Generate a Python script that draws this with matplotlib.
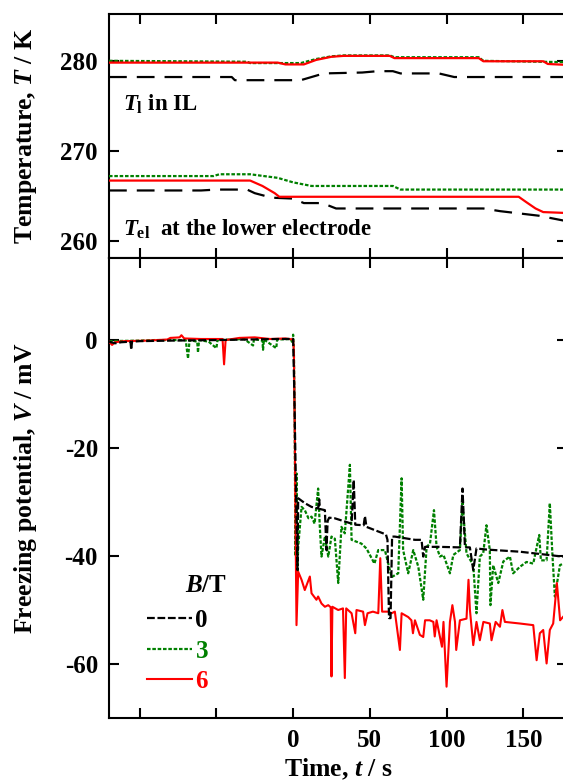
import numpy as np
import matplotlib
matplotlib.use("Agg")
import matplotlib.pyplot as plt

plt.rcParams['font.family'] = ['Liberation Serif', 'DejaVu Serif']
plt.rcParams['font.weight'] = 'bold'
plt.rcParams['axes.labelweight'] = 'bold'
plt.rcParams['axes.unicode_minus'] = False
plt.rcParams['mathtext.fontset'] = 'custom'
plt.rcParams['mathtext.rm'] = 'Liberation Serif:bold'
plt.rcParams['mathtext.bf'] = 'Liberation Serif:bold'
plt.rcParams['mathtext.it'] = 'Liberation Serif:italic:bold'

# ---- temperature (upper panel), (t / s, T / K) ----
tl_0 = [(-120, 278.2), (-40, 278.2), (-38, 277.85), (5, 277.85), (12, 278.2), (20, 278.6),
        (45, 278.7), (55, 278.85), (65, 278.85), (70, 278.6), (95, 278.6), (105, 278.2), (178, 278.2)]
tl_3 = [(-120, 280.0), (-30, 279.9), (-28, 279.75), (5, 279.75), (15, 280.2), (25, 280.5),
        (33, 280.6), (63, 280.6), (66, 280.4), (121, 280.4), (124, 280.0), (178, 279.85)]
tl_6 = [(-120, 279.8), (-10, 279.8), (-5, 279.6), (7, 279.6), (15, 280.1), (25, 280.45), (33, 280.55),
        (63, 280.55), (66, 280.3), (121, 280.3), (124, 279.95), (163, 279.95), (166, 279.65), (178, 279.55)]

tel_0 = [(-120, 265.6), (-60, 265.6), (-50, 265.7), (-30, 265.7), (-25, 265.3), (-14, 264.8),
         (0, 264.7), (7, 264.2), (19, 264.2), (28, 263.6), (124, 263.6), (135, 263.3),
         (145, 263.1), (160, 262.8), (178, 262.2)]
tel_3 = [(-120, 267.2), (-52, 267.2), (-48, 267.4), (-28, 267.4), (-10, 267.0), (0, 266.5),
         (12, 266.1), (65, 266.1), (70, 265.7), (178, 265.7)]
tel_6 = [(-120, 266.7), (-28, 266.7), (-20, 266.1), (-12, 265.3), (-9, 264.9), (147, 264.9),
         (152, 264.3), (158, 263.6), (163, 263.2), (178, 263.1)]

# ---- freezing potential (lower panel), (t / s, V / mV) ----
v_0 = [(-120, -0.3), (-116, -0.6), (-112, -0.4), (-106, -0.3), (-105.5, -1.8), (-105, -0.3),
       (-100, -0.2), (-80, -0.1), (-50, 0.0), (-30, 0.1), (-10, 0.2), (0, 0.2),
       (0.8, -10), (2.0, -30), (2.8, -42.6), (3.3, -29.3), (7.6, -30.2), (12, -30.9),
       (16.3, -31.2), (17.0, -29.5), (17.5, -31.3), (20.7, -31.5), (21.7, -38.9), (22.5, -33.5),
       (23.5, -32.9), (27, -33.0), (38.1, -34.0), (39.5, -25.9), (40.5, -34.2), (46.0, -34.3),
       (46.8, -32.6), (47.8, -34.6), (55, -35.4), (60.5, -36.0), (61.5, -37.0), (62.5, -51.5),
       (63.5, -51.5), (64.5, -36.4), (66.3, -36.4), (75, -36.8), (79.4, -37.0), (83.7, -37.0),
       (84.8, -40.1), (86, -38.3), (95, -38.3), (108.7, -38.4), (110.4, -27.5), (112, -38.4),
       (115.2, -38.4), (117.4, -42.6), (119.5, -38.6), (126, -38.8), (147.8, -39.2),
       (169.5, -39.9), (178, -40.2)]

v_3 = [(-120, -0.2), (-100, -0.1), (-90, 0.0), (-70, 0.0), (-68.5, -3.4), (-67.5, 0.0),
       (-62.5, -0.3), (-62, -2.3), (-61.3, 0.0), (-55, -0.3), (-50, -1.5), (-49.3, 0.0),
       (-40, 0.1), (-32, 0.2), (-26.1, -1.0), (-25.5, 0.2), (-20, -0.1), (-19.6, -1.8),
       (-19, 0.1), (-11, -1.5), (-10.4, 0.1), (-1.5, 0.2), (-0.5, -0.5), (0, 1.0), (0.5, -2.0),
       (1.0, -14), (1.5, -40), (2.2, -24.7), (2.8, -43), (3.3, -38.3), (5.5, -30.9),
       (7.6, -31.5), (10, -33.0), (12, -32.7), (14, -34.0), (16.3, -27.5), (17.4, -34.6),
       (18.5, -40.1), (20.7, -36.4), (22.9, -40.1), (25, -36.4), (27.2, -36.8), (29.4, -45.0),
       (31.5, -34.6), (33.7, -35.8), (37, -23.1), (38.1, -37.0), (44.5, -37.7), (47.8, -38.6),
       (53, -41.4), (55.5, -38.9), (59.8, -38.9), (64.2, -43.9), (68.5, -43.2), (70.7, -25.6),
       (71.7, -38.9), (75, -43.2), (78.3, -38.9), (81.6, -42.0), (84.8, -48.1), (87, -38.3),
       (89.2, -37.7), (91.8, -31.5), (93.5, -38.3), (95.7, -40.1), (98, -39.8), (102.2, -43.2),
       (104.4, -39.8), (108.7, -38.9), (110.4, -30.2), (113, -39.5), (117.4, -41.7),
       (119.5, -50.6), (121.7, -40.1), (123.9, -39.5), (126, -34.3), (128.2, -38.9),
       (128.6, -49.1), (130.4, -41.7), (133.7, -45.0), (137, -41.0), (141.3, -40.1),
       (143.4, -43.2), (147.8, -42.0), (152.1, -41.1), (156.5, -41.4), (160.4, -36.1),
       (161.5, -40.8), (165.2, -40.8), (167.3, -30.2), (169, -39.8), (170.6, -47.5),
       (173.9, -41.7), (178, -41.1)]

v_6 = [(-120, -0.3), (-118, -0.9), (-116, -0.4), (-110, -0.2), (-95, -0.1), (-82, 0.1),
       (-80, 0.4), (-74, 0.5), (-72.8, 0.9), (-71, 0.3), (-60, 0.2), (-46, 0.2), (-45, -4.5),
       (-44, 0.0), (-35, 0.4), (-25, 0.5), (-15, 0.2), (-5, 0.3), (0, 0.1), (0.5, -2.0),
       (1.0, -15), (1.6, -35), (2.2, -52.8), (3.3, -42.9), (5.5, -44.4), (7.6, -46.3),
       (10.9, -43.8), (12, -46.9), (15.2, -48.1), (16.3, -47.5), (18.5, -48.8), (20.7, -49.4),
       (22.9, -49.1), (24.5, -49.5), (25, -62.3), (25.6, -49.4), (29.4, -50.0), (32.5, -49.7),
       (33.7, -62.6), (34.6, -49.7), (38.1, -50.6), (40.5, -54.3), (41.3, -50.0), (45.6, -50.3),
       (46.8, -52.8), (48.5, -50.6), (52, -50.3), (55.5, -50.6), (56.8, -40.4), (58, -50.3),
       (62, -50.3), (64.2, -50.6), (66.3, -50.3), (69.6, -57.4), (70.7, -50.6), (75, -51.3),
       (77.1, -51.9), (78.1, -54.3), (79.4, -51.9), (82.6, -54.6), (84.8, -55.0), (86, -51.9),
       (89, -51.9), (91.4, -52.2), (92.3, -54.9), (93.5, -51.9), (97, -56.8), (98, -52.2),
       (100, -64.2), (102.2, -52.2), (103.8, -49.1), (105.5, -52.2), (106.3, -57.4),
       (108.7, -51.9), (113, -51.6), (114.3, -44.4), (115.2, -49.9), (117.4, -56.5),
       (119.5, -52.2), (121.7, -55.6), (124, -52.2), (128.2, -52.5), (129.3, -55.6),
       (132, -52.2), (134.8, -53.1), (136.4, -50.0), (138, -52.2), (147.8, -52.5),
       (156.5, -52.8), (158.7, -59.3), (160.8, -54.3), (163, -53.7), (165.2, -59.9),
       (167.3, -53.7), (169.5, -52.5), (171.9, -45.0), (174, -51.9), (178, -50.6)]

fields = ['0', '3', '6']
colors = ['black', '#008000', '#ff0000']

xticks = [-100, -50, 0, 50, 100, 150]
xticklabels = ['', '', '0', '50', '100', '150']

fig = plt.figure(figsize=(5.63, 7.84), dpi=100)
W = 458 / 563
ax1 = fig.add_axes([109 / 563, 1 - 258 / 784, W, 244 / 784])
ax2 = fig.add_axes([109 / 563, 1 - 718 / 784, W, 460 / 784])

styles = [dict(dashes=(3.5, 1.2), lw=1.6), dict(dashes=(1.6, 0.8), lw=1.6), dict(lw=1.5)]
top_styles = [dict(dashes=(8, 4.5), lw=1.6), dict(dashes=(1.6, 0.8), lw=1.6), dict(lw=1.6)]

# upper panel
for series, c, st, z in zip([(tl_0, tel_0), (tl_3, tel_3), (tl_6, tel_6)], colors, top_styles, [2, 3, 4]):
    for s in series:
        t, T = np.array(s).T
        ax1.plot(t, T, color=c, zorder=z, **st)

ax1.text(-111, 275.2, r'$T_\mathrm{l}$ in IL', fontsize=16.5, va='center')
ax1.text(-111, 261.3, r'$T_\mathrm{el}$  at the lower electrode', fontsize=16.5, va='center')

# lower panel
for s, lab, c, st, z in zip([v_0, v_3, v_6], fields, colors, styles, [4, 2, 3]):
    t, v = np.array(s).T
    ax2.plot(t, v, color=c, label=lab, zorder=z, **st)

for ax in (ax1, ax2):
    ax.set_xlim(-120, 178.5)
    ax.set_xticks(xticks)
    ax.tick_params(direction='in', length=7, width=1.5, top=True, right=True,
                   labelsize=18, pad=8)
    for sp in ax.spines.values():
        sp.set_linewidth(1.5)

ax1.set_ylim(258.1, 285.2)
ax1.set_yticks([260, 270, 280])
ax1.set_xticklabels([])
ax1.set_ylabel(r'Temperature, $T$ / K', fontsize=18.5)

ax2.set_ylim(-70, 15.2)
ax2.set_yticks([-60, -40, -20, 0])
ax2.set_xticklabels(xticklabels)
ax2.set_ylabel(r'Freezing potential, $V$ / mV', fontsize=18.5)
ax2.set_xlabel(r'Time, $t$ / s', fontsize=18.5, labelpad=3)

ax1.yaxis.set_label_coords(-0.152, 0.5)
ax2.yaxis.set_label_coords(-0.152, 0.5)

leg = ax2.legend(loc='upper left', bbox_to_anchor=(0.055, 0.264),
                 frameon=False, fontsize=18, handlelength=1.8,
                 handletextpad=0.15, labelspacing=0.3, borderpad=0,
                 labelcolor=colors)
ax2.text(0.165, 0.288, r'$B$/T', transform=ax2.transAxes, fontsize=18,
         ha='left', va='center')

fig.savefig('out.png', dpi=100)
